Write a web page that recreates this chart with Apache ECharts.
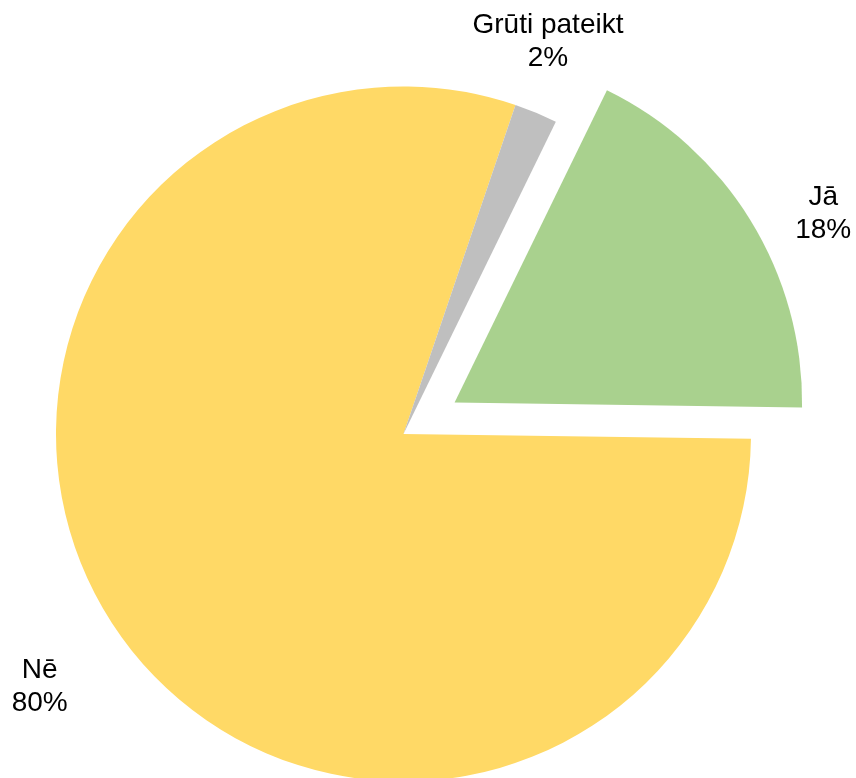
<!DOCTYPE html>
<html>
<head>
<meta charset="utf-8">
<script src="https://cdn.jsdelivr.net/npm/echarts@6/dist/echarts.min.js"></script>
<style>
html,body{margin:0;padding:0;background:#fff;}
#chart{width:856px;height:778px;}
</style>
</head>
<body>
<div id="chart"></div>
<script>
const categories = ['Jā', 'Nē', 'Grūti pateikt'];
const values = [18, 80, 2];
const colors = ['#A9D18E', '#FFD966', '#BFBFBF'];
const explodedIndex = 0;

const CX = 403.5, CY = 434, R = 347.5, START = 64, OFFSET = 60, LABEL_GAP = 50;
const labelNudge = [[30, 20], [-39, 24], [-7, -25]];

const total = values.reduce((a, b) => a + b, 0);
function midAngle(i) {
  let cum = 0;
  for (let k = 0; k < i; k++) cum += values[k];
  return (START - (cum + values[i] / 2) / total * 360) * Math.PI / 180;
}
const exA = midAngle(explodedIndex);
const exCenter = [CX + Math.cos(exA) * OFFSET, CY - Math.sin(exA) * OFFSET];

function makeSeries(center, showIdx) {
  return {
    type: 'pie',
    center: center,
    radius: R,
    startAngle: START,
    clockwise: true,
    silent: true,
    emphasis: {disabled: true},
    itemStyle: {borderWidth: 0},
    label: {
      show: true,
      position: 'outside',
      formatter: '{b}\n{c}%',
      fontFamily: 'Liberation Sans, Arial, sans-serif',
      fontSize: 28,
      lineHeight: 33,
      color: '#000',
      overflow: 'none',
      bleedMargin: 0
    },
    labelLine: {show: false},
    labelLayout: function (p) {
      const i = p.dataIndex;
      const a = midAngle(i);
      const d = R + LABEL_GAP;
      return {
        x: center[0] + Math.cos(a) * d + labelNudge[i][0],
        y: center[1] - Math.sin(a) * d + labelNudge[i][1],
        align: 'center',
        verticalAlign: 'middle'
      };
    },
    data: categories.map((name, i) => {
      const vis = showIdx(i);
      return {
        name: name,
        value: values[i],
        itemStyle: {color: vis ? colors[i] : 'rgba(0,0,0,0)'},
        label: {show: vis}
      };
    })
  };
}

const chart = echarts.init(document.getElementById('chart'), null, {renderer: 'canvas'});
chart.setOption({
  animation: false,
  backgroundColor: '#fff',
  series: [
    makeSeries([CX, CY], i => i !== explodedIndex),
    makeSeries(exCenter, i => i === explodedIndex)
  ]
});
</script>
</body>
</html>
